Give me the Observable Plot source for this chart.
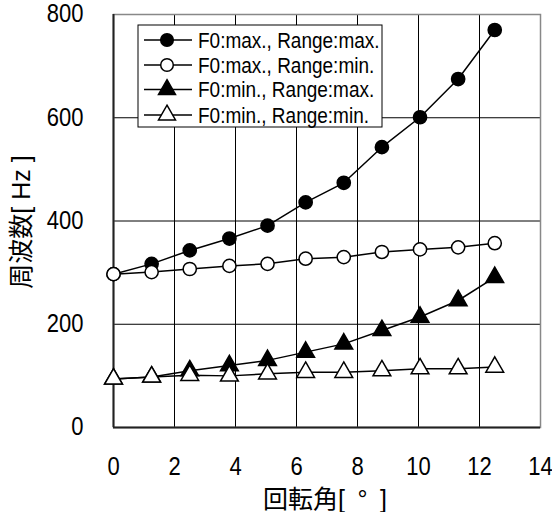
<!DOCTYPE html>
<html>
<head>
<meta charset="utf-8">
<script src="https://cdn.jsdelivr.net/npm/d3@7"></script>
<script src="https://cdn.jsdelivr.net/npm/@observablehq/plot@0.6"></script>
<style>
  html, body { margin: 0; padding: 0; background: #fff; }
  #chart { position: relative; width: 552px; height: 512px; }
</style>
</head>
<body>
<div id="chart"></div>
<script>
// ---- data ----
const angles = [0, 1.25, 2.5, 3.8, 5.05, 6.3, 7.55, 8.8, 10.05, 11.3, 12.5];
const f0MaxRangeMax = [297, 317, 343, 366, 391, 436, 474, 543, 601, 675, 770];
const f0MaxRangeMin = [297, 301, 307, 313, 317, 327, 330, 340, 345, 349, 357];
const f0MinRangeMax = [94, 98, 110, 120, 130, 146, 162, 188, 214, 246, 291];
const f0MinRangeMin = [94, 98, 101, 100, 104, 107, 107, 110, 114, 114, 117];
const seriesNames = ["F0:max., Range:max.", "F0:max., Range:min.", "F0:min., Range:max.", "F0:min., Range:min."];
const xTicks = [0, 2, 4, 6, 8, 10, 12, 14];
const yTicks = [0, 200, 400, 600, 800];
const xLabel = "回転角[\u2002°\u2002]";
const yLabel = "周波数[ Hz ]";

const seriesValues = [f0MaxRangeMax, f0MaxRangeMin, f0MinRangeMax, f0MinRangeMin];
const styles = [
  {symbol: "circle", fill: "black"},
  {symbol: "circle", fill: "white"},
  {symbol: "triangle", fill: "black"},
  {symbol: "triangle", fill: "white"}
];
const rows = [];
seriesValues.forEach((vals, si) => {
  vals.forEach((v, i) => rows.push({series: seriesNames[si], si, x: angles[i], y: v}));
});

const font = "'Liberation Sans', Arial, 'Noto Sans CJK JP', sans-serif";
const ml = 113, mr = 12, mt = 14, mb = 85;

const marks = [
  Plot.gridX(xTicks, {stroke: "black", strokeOpacity: 1, strokeWidth: 1}),
  Plot.gridY(yTicks, {stroke: "black", strokeOpacity: 1, strokeWidth: 1}),
  Plot.frame({stroke: "#888", strokeWidth: 1.5}),
  Plot.ruleX([0], {stroke: "#222", strokeWidth: 2}),
  Plot.ruleY([0], {stroke: "#222", strokeWidth: 2}),
  Plot.axisX(xTicks, {tickSize: 0, tickPadding: 30, fontSize: 22, label: null}),
  Plot.axisY(yTicks, {tickSize: 0, tickPadding: 30, fontSize: 22, label: null}),
  Plot.text([xLabel], {frameAnchor: "bottom", dx: -2, dy: 72, lineAnchor: "middle", textAnchor: "middle", fontSize: 25, fill: "black"}),
  Plot.text([yLabel], {frameAnchor: "left", dx: -92, dy: 1, rotate: -90, textAnchor: "middle", lineAnchor: "middle", fontSize: 25, fill: "black"}),
  Plot.line(rows, {x: "x", y: "y", z: "series", stroke: "black", strokeWidth: 1.5})
];
seriesNames.forEach((name, si) => {
  marks.push(Plot.dot(rows.filter(d => d.si === si), {
    x: "x", y: "y", r: 6.6, symbol: () => styles[si].symbol,
    fill: styles[si].fill, stroke: "black", strokeWidth: 1.5
  }));
});

const plot = Plot.plot({
  width: 552, height: 512,
  marginLeft: ml, marginRight: mr, marginTop: mt, marginBottom: mb,
  style: {fontFamily: font, color: "black", background: "white", overflow: "visible"},
  x: {domain: [0, 14], ticks: xTicks},
  y: {domain: [0, 800], ticks: yTicks},
  symbol: {range: ["circle", "triangle"]},
  marks
});
document.getElementById("chart").appendChild(plot);

// ---- legend (inside plot area, top-left) ----
const svg = d3.select(plot);
const lg = svg.append("g").attr("transform", "translate(138,25)");
lg.append("rect").attr("width", 244).attr("height", 102)
  .attr("fill", "white").attr("stroke", "black").attr("stroke-width", 1);
const rowY = [15, 40, 64.5, 90];
seriesNames.forEach((name, si) => {
  const g = lg.append("g").attr("transform", `translate(0,${rowY[si]})`);
  g.append("line").attr("x1", 6).attr("x2", 54).attr("y1", 0).attr("y2", 0)
    .attr("stroke", "black").attr("stroke-width", 1.5);
  const sym = styles[si].symbol === "circle" ? d3.symbolCircle : d3.symbolTriangle;
  g.append("path").attr("transform", "translate(29,0)")
    .attr("d", d3.symbol(sym, Math.PI * 6.3 * 6.3)())
    .attr("fill", styles[si].fill).attr("stroke", "black").attr("stroke-width", 1.5);
  g.append("text").attr("x", 60).attr("y", 0).attr("dy", "0.36em")
    .attr("text-anchor", "start")
    .attr("font-size", 19).attr("font-family", font).attr("fill", "black")
    .text(name);
});

// slight vertical stretch of Latin glyphs, as in the reference
svg.selectAll("text").each(function() {
  if (/[\u3000-\u9fff]/.test(this.textContent)) return;
  const x = +this.getAttribute("x") || 0;
  const y = +this.getAttribute("y") || 0;
  const t = this.getAttribute("transform") || "";
  this.setAttribute("transform", `${t} translate(${x},${y}) scale(1,1.13) translate(${-x},${-y})`);
});
</script>
</body>
</html>
